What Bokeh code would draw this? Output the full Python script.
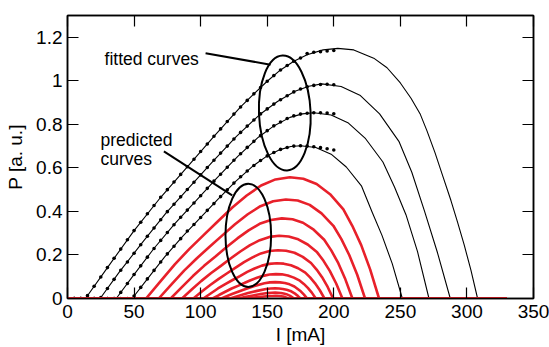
from bokeh.plotting import figure
from bokeh.models import Range1d, LinearAxis, FixedTicker, CustomJSTickFormatter
from bokeh.embed import file_html
from bokeh.resources import INLINE
from bokeh.core.properties import value

FONT = "Liberation Sans"

x_ticks = [0, 50, 100, 150, 200, 250, 300, 350]
y_ticks = [0, 0.2, 0.4, 0.6, 0.8, 1.0, 1.2]

# fitted curves (black)
fit_a_i = [13.5, 30, 50, 70, 90, 110, 130, 140, 150, 160, 170, 180, 192, 203, 215, 230, 240, 250, 258, 265, 270, 276, 282, 288, 293, 298, 303, 308]
fit_a_p = [0, .142, .312, .465, .605, .745, .88, .94, .998, 1.05, 1.09, 1.12, 1.142, 1.149, 1.142, 1.104, 1.06, .99, .92, .846, .77, .67, .56, .45, .35, .245, .13, 0]
fit_b_i = [24.5, 39, 56.6, 74.1, 91.8, 109.2, 126.9, 144.4, 157.7, 170.9, 181.3, 191, 205.5, 220, 234.4, 248.9, 258.6, 268.2, 277.9, 287.5]
fit_b_p = [0, .122, .26, .393, .513, .63, .745, .845, .905, .952, .975, .986, .974, .932, .848, .722, .58, .40, .21, 0]
fit_c_i = [36.6, 49.5, 65.2, 80.8, 96.6, 112.1, 127.9, 143.4, 155.3, 167.1, 176.4, 185, 198, 211, 223.9, 236.9, 245.6, 254.2, 262.9, 271.5]
fit_c_p = [0, .106, .232, .345, .45, .553, .653, .741, .794, .832, .848, .853, .843, .806, .734, .627, .512, .385, .215, 0]
fit_d_i = [48.6, 59.6, 73, 86.3, 99.7, 112.9, 126.3, 139.6, 149.7, 159.7, 167.7, 175, 186.5, 198, 209.4, 220.9, 228.6, 236.2, 243.9, 251.5]
fit_d_p = [0, .087, .191, .284, .37, .455, .538, .61, .654, .684, .698, .702, .694, .663, .604, .516, .40, .29, .16, 0]

# measured points (dots)
meas_i = [0, 5, 10, 15, 20, 25, 30, 35, 40, 45, 50, 55, 60, 65, 70, 75, 80, 85, 90, 95, 100,
          105, 110, 115, 120, 125, 130, 135, 140, 145, 150, 155, 160, 165, 170, 175, 180, 185, 190, 195, 200]
meas_a = [0, 0, 0, .013, .056, .099, .142, .185, .227, .27, .312, .35, .389, .427, .465, .5, .535, .57, .605, .64, .675,
          .71, .745, .779, .813, .847, .88, .91, .94, .969, .998, 1.024, 1.05, 1.07, 1.09, 1.105, 1.125, 1.131, 1.134, 1.137, 1.139]
meas_b = [0, 0, 0, 0, 0, .004, .046, .088, .13, .168, .208, .247, .286, .324, .362, .399, .433, .467, .501, .534, .568,
          .602, .635, .668, .7, .733, .763, .792, .82, .848, .871, .893, .913, .931, .949, .962, .973, .979, .983, .984, .982]
meas_c = [0, 0, 0, 0, 0, 0, 0, 0, .028, .069, .11, .15, .19, .23, .267, .303, .339, .373, .406, .439, .472,
          .506, .539, .571, .603, .635, .665, .694, .722, .748, .771, .793, .811, .827, .839, .847, .851, .853, .853, .852, .849]
meas_d = [0, 0, 0, 0, 0, 0, 0, 0, 0, 0, .011, .051, .09, .129, .168, .205, .24, .275, .31, .34, .372,
          .405, .436, .468, .499, .53, .559, .586, .611, .634, .655, .671, .685, .694, .7, .702, .7, .697, .693, .688, .682]

# predicted curves (red)
pred_1_i = [0, 59, 69.8, 80.6, 91.4, 102.2, 113, 123.8, 134.6, 145.4, 156.2, 167, 177.1, 187.1, 197.2, 207.2, 213.9, 220.6, 227.3, 234, 330]
pred_1_p = [0, 0, .079, .157, .227, .291, .355, .418, .473, .519, .547, .557, .550, .526, .479, .409, .334, .245, .134, 0, 0]
pred_2_i = [0, 68.5, 78.1, 87.6, 97.2, 106.7, 116.3, 125.8, 135.4, 144.9, 154.5, 164, 172.9, 181.9, 190.8, 199.7, 205.7, 211.6, 217.6, 223.5, 330]
pred_2_p = [0, 0, .065, .128, .185, .238, .290, .341, .387, .424, .447, .455, .450, .430, .391, .334, .273, .200, .109, 0, 0]
pred_3_i = [0, 77.5, 85.9, 94.2, 102.6, 110.9, 119.3, 127.6, 136, 144.3, 152.7, 161, 169, 176.9, 184.9, 192.8, 198.1, 203.4, 208.7, 214, 330]
pred_3_p = [0, 0, .052, .103, .150, .192, .235, .276, .313, .343, .361, .368, .364, .348, .316, .270, .221, .162, .088, 0, 0]
pred_4_i = [0, 86, 93.3, 100.6, 107.9, 115.2, 122.5, 129.8, 137.1, 144.4, 151.7, 159, 166.1, 173.3, 180.4, 187.5, 192.3, 197, 201.8, 206.5, 330]
pred_4_p = [0, 0, .041, .081, .117, .150, .184, .216, .245, .268, .283, .288, .285, .272, .248, .212, .173, .127, .069, 0, 0]
pred_5_i = [0, 94.5, 100.9, 107.2, 113.6, 119.9, 126.3, 132.6, 139, 145.3, 151.7, 158, 164.2, 170.5, 176.7, 182.9, 187.1, 191.2, 195.4, 199.5, 330]
pred_5_p = [0, 0, .032, .062, .090, .116, .142, .167, .189, .207, .218, .222, .219, .210, .191, .163, .133, .098, .053, 0, 0]
pred_6_i = [0, 102, 107.5, 113, 118.5, 124, 129.5, 135, 140.5, 146, 151.5, 157, 162.4, 167.8, 173.2, 178.6, 182.2, 185.8, 189.4, 193, 330]
pred_6_p = [0, 0, .023, .046, .066, .085, .103, .122, .138, .151, .159, .162, .160, .153, .139, .119, .097, .071, .039, 0, 0]
pred_7_i = [0, 109, 113.8, 118.5, 123.3, 128, 132.8, 137.5, 142.3, 147, 151.8, 156.5, 161, 165.5, 170, 174.5, 177.5, 180.5, 183.5, 186.5, 330]
pred_7_p = [0, 0, .016, .031, .046, .058, .071, .084, .095, .104, .110, .112, .111, .106, .096, .082, .067, .049, .027, 0, 0]
pred_8_i = [0, 115.5, 123.6, 131.7, 139.8, 147.9, 152, 156, 159.6, 163.2, 166.8, 170.4, 175.2, 177.6, 180, 330]
pred_8_p = [0, 0, .021, .039, .056, .070, .074, .075, .074, .071, .065, .055, .033, .018, 0, 0]
pred_9_i = [0, 122, 128.8, 135.6, 142.4, 149.2, 152.6, 156, 158.9, 161.7, 164.6, 167.4, 171.2, 173.1, 175, 330]
pred_9_p = [0, 0, .013, .025, .035, .044, .046, .047, .046, .044, .040, .035, .021, .011, 0, 0]
pred_10_i = [0, 128.5, 134, 139.5, 145, 150.5, 153.3, 156, 158.1, 160.2, 162.3, 164.4, 167.2, 168.6, 170, 330]
pred_10_p = [0, 0, .0076, .0141, .0203, .0251, .0265, .027, .0267, .0255, .0232, .0198, .0119, .0065, 0, 0]
pred_11_i = [0, 135, 139.2, 143.4, 147.6, 151.8, 153.9, 156, 157.5, 159, 160.5, 162, 164, 165, 166, 330]
pred_11_p = [0, 0, .0034, .0063, .009, .0112, .0118, .012, .0119, .0113, .0103, .0088, .0053, .0029, 0, 0]

fit_curves = [(fit_a_i, fit_a_p), (fit_b_i, fit_b_p), (fit_c_i, fit_c_p), (fit_d_i, fit_d_p)]
meas_sets = [meas_a, meas_b, meas_c, meas_d]
pred_curves = [(pred_1_i, pred_1_p), (pred_2_i, pred_2_p), (pred_3_i, pred_3_p), (pred_4_i, pred_4_p),
               (pred_5_i, pred_5_p), (pred_6_i, pred_6_p), (pred_7_i, pred_7_p), (pred_8_i, pred_8_p),
               (pred_9_i, pred_9_p), (pred_10_i, pred_10_p), (pred_11_i, pred_11_p)]

RED = "#e8202a"

p = figure(width=549, height=347, x_range=Range1d(0, 350), y_range=Range1d(0, 1.3),
           output_backend="svg", toolbar_location=None,
           min_border_left=67, min_border_right=16, min_border_top=15, min_border_bottom=48,
           x_axis_label="I [mA]", y_axis_label="P [a. u.]")
p.xgrid.visible = False
p.ygrid.visible = False
p.outline_line_color = "black"
p.outline_line_width = 1.5
p.background_fill_color = "white"
p.border_fill_color = "white"

top_axis = LinearAxis()
right_axis = LinearAxis()
p.add_layout(top_axis, "above")
p.add_layout(right_axis, "right")

for ax in p.axis:
    ax.axis_line_color = "black"
    ax.axis_line_width = 1.5
    ax.major_tick_line_color = "black"
    ax.major_tick_line_width = 1.2
    ax.major_tick_in = 11
    ax.major_tick_out = 0
    ax.minor_tick_line_color = None
    ax.major_label_text_font = FONT
    ax.major_label_text_font_size = "19px"
    ax.major_label_text_color = "black"
    ax.axis_label_text_font = FONT
    ax.axis_label_text_font_size = "19px"
    ax.axis_label_text_font_style = "normal"
    ax.axis_label_text_color = "black"

for ax in p.xaxis:
    ax.ticker = FixedTicker(ticks=x_ticks)
for ax in p.yaxis:
    ax.ticker = FixedTicker(ticks=y_ticks)
    ax.formatter = CustomJSTickFormatter(code="return tick.toFixed(1).replace(/\\.0$/, '');")

# mirror axes: ticks only, no labels
for ax in (top_axis, right_axis):
    ax.major_label_text_color = None
    ax.major_label_text_alpha = 0
    ax.major_label_text_font_size = "2px"
    ax.major_label_standoff = 0
    ax.formatter = CustomJSTickFormatter(code="return '';")

p.below[0].major_label_standoff = 6
p.below[0].axis_label_standoff = 3
p.left[0].major_label_standoff = 5
p.left[0].axis_label_standoff = 7

for xs, ys in fit_curves:
    p.line(xs, ys, line_color="black", line_width=1.1)

for ys in meas_sets:
    p.scatter(meas_i, ys, marker="circle", size=3.6, fill_color="black", line_color=None)

for xs, ys in pred_curves:
    p.line(xs, ys, line_color=RED, line_width=2.6)

# ellipses marking curve groups
p.ellipse(x=163.2, y=0.852, width=38.8, height=0.528, angle=0.04,
          fill_color=None, line_color="black", line_width=2)
p.ellipse(x=135.8, y=0.290, width=34.3, height=0.474, angle=0.0,
          fill_color=None, line_color="black", line_width=2)

# pointers
p.line([103.7, 152.5], [1.127, 1.074], line_color="black", line_width=2)
p.line([72.4, 123.7], [0.676, 0.474], line_color="black", line_width=2)

# annotation texts
p.text(x=[27.8], y=[1.101], text=["fitted curves"], text_font=value(FONT), text_font_size="17.5px",
       text_color="black", text_baseline="alphabetic", text_align="left")
p.text(x=[24.8, 24.8], y=[0.728, 0.641], text=["predicted", "curves"], text_font=value(FONT),
       text_font_size="17.5px", text_color="black", text_baseline="alphabetic", text_align="left")

open("out.html", "w").write(file_html(p, INLINE))
